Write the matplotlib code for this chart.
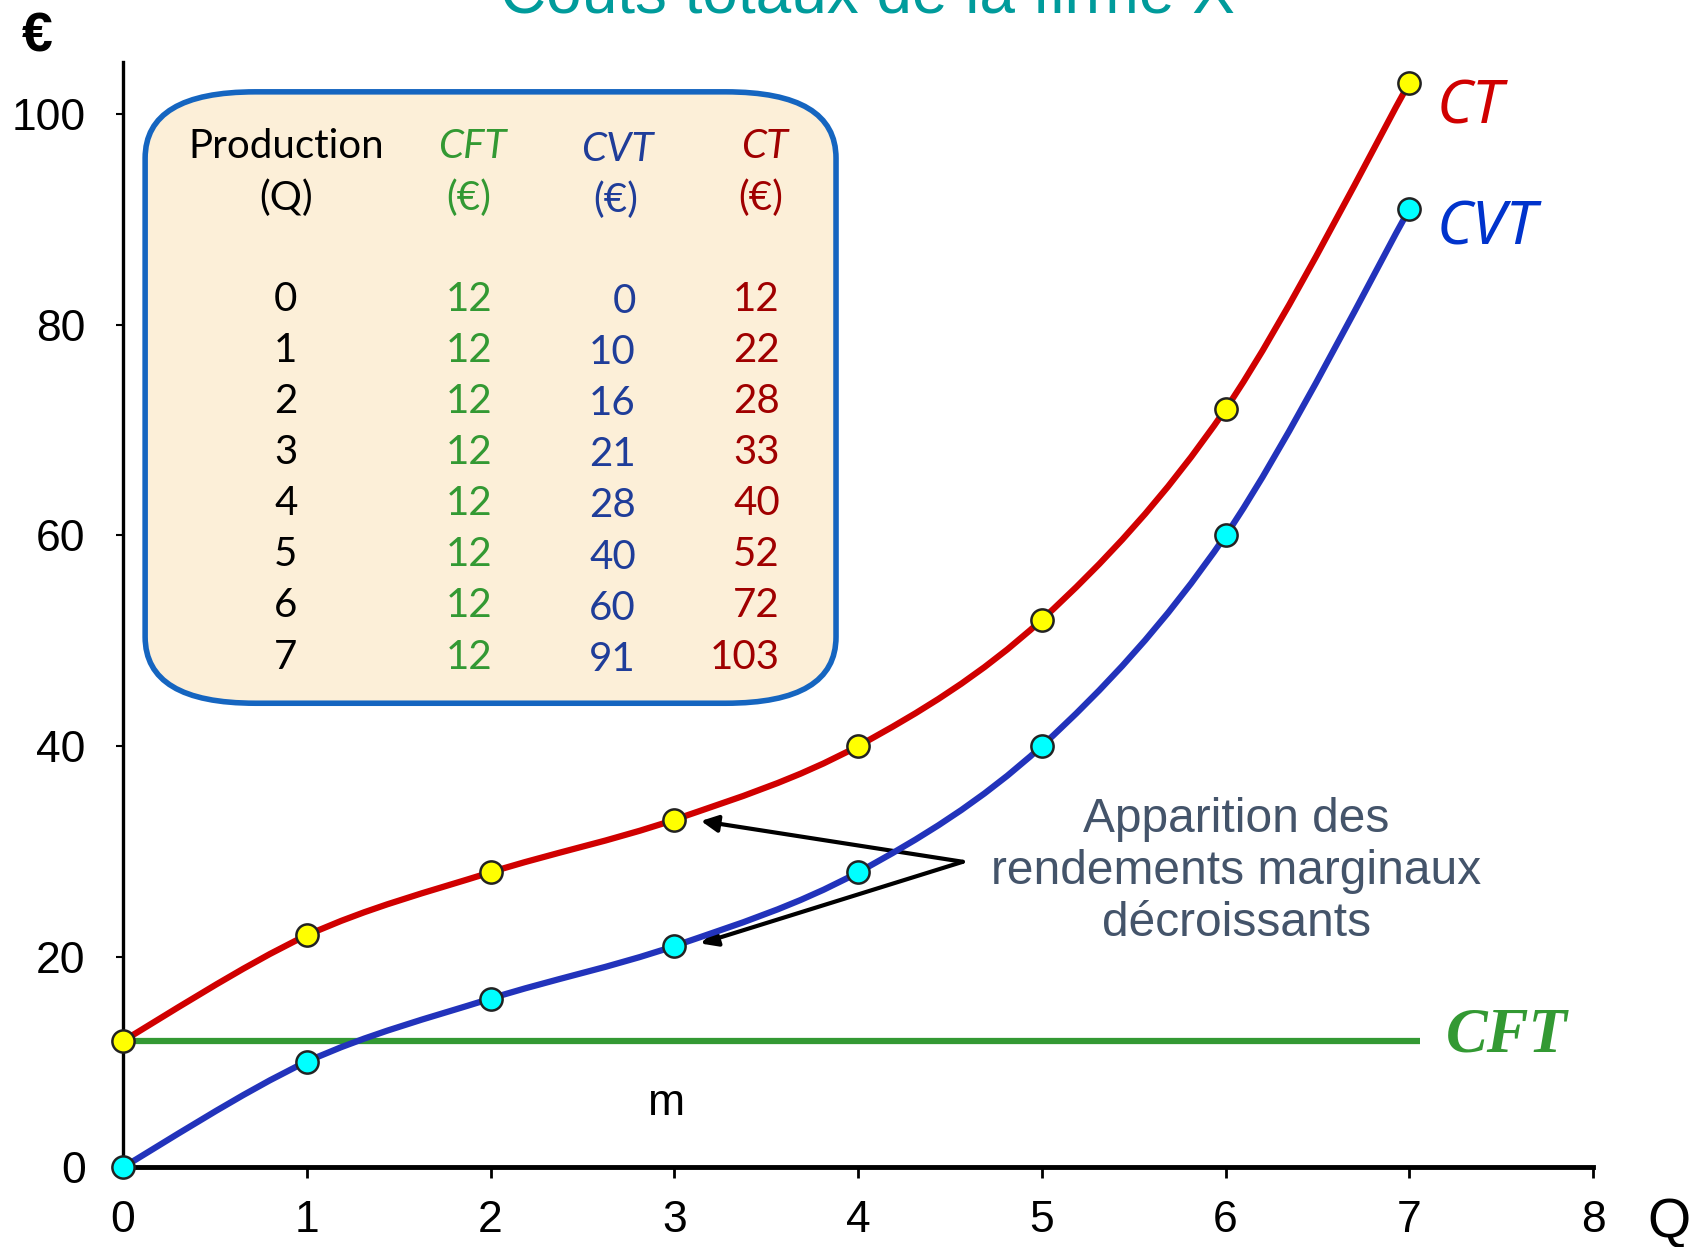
import matplotlib.pyplot as plt
import numpy as np
from matplotlib.path import Path
from matplotlib.patches import PathPatch, FancyBboxPatch

# Data
q = [0, 1, 2, 3, 4, 5, 6, 7]
cft = [12, 12, 12, 12, 12, 12, 12, 12]
cvt = [0, 10, 16, 21, 28, 40, 60, 91]
ct = [12, 22, 28, 33, 40, 52, 72, 103]
x_ticks = [0, 1, 2, 3, 4, 5, 6, 7, 8]
y_ticks = [0, 20, 40, 60, 80, 100]

red = '#d00000'
blue = '#2233bb'
green = '#339933'


def smooth_path(xs, ys):
    # Catmull-Rom through the points, as cubic bezier segments
    p = np.column_stack([xs, ys]).astype(float)
    ext = np.vstack([p[0], p, p[-1]])
    verts = [p[0]]
    codes = [Path.MOVETO]
    for i in range(1, len(ext) - 2):
        p0, p1, p2, p3 = ext[i - 1], ext[i], ext[i + 1], ext[i + 2]
        verts += [p1 + (p2 - p0) / 6, p2 - (p3 - p1) / 6, p2]
        codes += [Path.CURVE4] * 3
    return Path(verts, codes)


fig = plt.figure(figsize=(17, 12.47), dpi=100)
ax = fig.add_axes([0.0724, 0.0641, 0.8647, 0.8864])
ax.set_xlim(0, 8)
ax.set_ylim(0, 105)

for s in ['top', 'right']:
    ax.spines[s].set_visible(False)
ax.spines['left'].set_linewidth(2.4)
ax.spines['bottom'].set_linewidth(3.5)
ax.set_xticks(x_ticks)
ax.set_yticks(y_ticks)
ax.tick_params(axis='x', length=8, width=2, pad=16, labelsize=32)
ax.tick_params(axis='y', length=5, width=1.5, pad=22, labelsize=32)
for lab in ax.get_xticklabels() + ax.get_yticklabels():
    lab.set_family('Liberation Sans')

# table box
box = FancyBboxPatch((0.40, 47.0), 3.2, 52.2,
                     boxstyle='round,pad=0.28,rounding_size=0.6',
                     mutation_aspect=10.5,
                     facecolor='#fcefd8', edgecolor='#1565c0', lw=4, zorder=1)
ax.add_patch(box)

# curves
ax.plot([0, 7.06], [cft[0], cft[-1]], color=green, lw=4.5, zorder=3,
        solid_capstyle='butt')
ax.add_patch(PathPatch(smooth_path(q, ct), fill=False, edgecolor=red, lw=4.5,
                       zorder=4, capstyle='round'))
ax.add_patch(PathPatch(smooth_path(q, cvt), fill=False, edgecolor=blue, lw=4.5,
                       zorder=4, capstyle='round'))
ax.plot(q, ct, 'o', ms=16, mfc='#ffff00', mec='#222222', mew=1.8, zorder=5,
        clip_on=False)
ax.plot(q, cvt, 'o', ms=16, mfc='#00ffff', mec='#222222', mew=1.8, zorder=5,
        clip_on=False)

# curve labels
ax.text(7.15, ct[-1] - 2.4, 'CT', color=red, fontsize=44, style='italic',
        family='Noto Sans', va='center', ha='left')
ax.text(7.15, cvt[-1] - 1.9, 'CVT', color='#0033cc', fontsize=44,
        style='italic', family='Noto Sans', va='center', ha='left')
ax.text(7.2, 12.4, 'CFT', color=green, fontsize=45, style='italic',
        weight='bold', family='Liberation Serif', va='center', ha='left')
ax.text(2.96, 6.0, 'm', fontsize=32, family='Liberation Sans', ha='center',
        va='center')

# annotation
ax.text(6.06, 28.1, 'Apparition des\nrendements marginaux\ndécroissants',
        color='#44546a', fontsize=34.5, family='Liberation Sans', ha='center',
        va='center', linespacing=1.2)
for ty in [ct[3], cvt[3]]:
    ax.annotate('', xy=(3.1, ty), xytext=(4.57, 29.0),
                arrowprops=dict(arrowstyle='-|>', color='black', lw=3,
                                mutation_scale=25, shrinkA=0, shrinkB=6))

# table text
row_y = 82.4
dy = 4.85
tfont = 'Lato'
fs = 29
ax.text(0.885, 96.9, 'Production', fontsize=fs, family=tfont, ha='center',
        va='center')
ax.text(0.885, 92.0, '(Q)', fontsize=fs, family=tfont, ha='center',
        va='center')
ax.text(1.90, 96.9, 'CFT', fontsize=fs, family=tfont, style='italic',
        color=green, ha='center', va='center')
ax.text(1.88, 92.0, '(€)', fontsize=fs, family=tfont, color=green,
        ha='center', va='center')
ax.text(2.69, 96.7, 'CVT', fontsize=fs, family=tfont, style='italic',
        color='#1f3d99', ha='center', va='center')
ax.text(2.68, 91.8, '(€)', fontsize=fs, family=tfont, color='#1f3d99',
        ha='center', va='center')
ax.text(3.49, 96.9, 'CT', fontsize=fs, family=tfont, style='italic',
        color='#a00000', ha='center', va='center')
ax.text(3.47, 92.0, '(€)', fontsize=fs, family=tfont, color='#a00000',
        ha='center', va='center')
for i in range(len(q)):
    y = row_y - i * dy
    ax.text(0.885, y, str(q[i]), fontsize=fs, family=tfont, ha='center',
            va='center')
    ax.text(1.882, y, str(cft[i]), fontsize=fs, family=tfont, color=green,
            ha='center', va='center')
    ax.text(2.79, y - 0.2, str(cvt[i]), fontsize=fs, family=tfont,
            color='#1f3d99', ha='right', va='center')
    ax.text(3.575, y, str(ct[i]), fontsize=fs, family=tfont, color='#a00000',
            ha='right', va='center')

# axis labels and title
fig.text(0.022, 0.970, '€', fontsize=40, weight='bold',
         family='Liberation Sans', ha='center', va='center')
fig.text(0.982, 0.019, 'Q', fontsize=40, family='Liberation Sans',
         ha='center', va='center')
fig.text(0.51, 0.99, 'Coûts totaux de la firme X', fontsize=46,
         family='Liberation Sans', color='#009b9b', ha='center',
         va='baseline')

fig.savefig('out.png', dpi=100)
